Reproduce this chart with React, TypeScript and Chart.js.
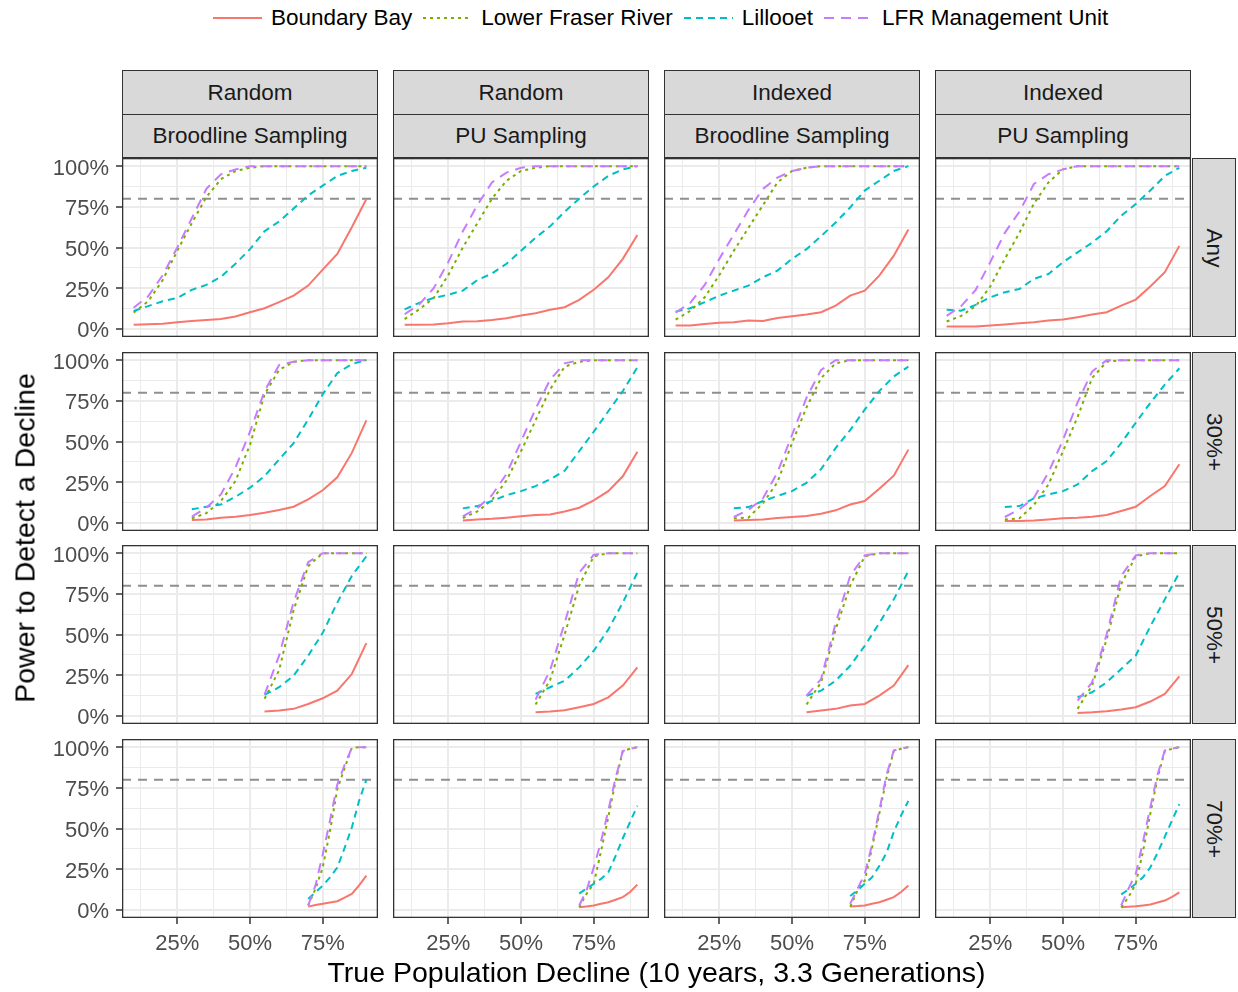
import React, { useEffect, useRef } from 'react';
import { Chart, registerables } from 'chart.js';

Chart.register(...registerables);

const FONT = '"Liberation Sans", Arial, Helvetica, sans-serif';

// ---------- labels ----------
const seriesNames = ['Boundary Bay', 'Lower Fraser River', 'Lillooet', 'LFR Management Unit'];
const colTopLabels = ['Random', 'Random', 'Indexed', 'Indexed'];
const colBottomLabels = ['Broodline Sampling', 'PU Sampling', 'Broodline Sampling', 'PU Sampling'];
const rowLabels = ['Any', '30%+', '50%+', '70%+'];
const xTitle = 'True Population Decline (10 years, 3.3 Generations)';
const yTitle = 'Power to Detect a Decline';

// ---------- ticks ----------
const xMajorTicks = [25, 50, 75];
const xMinorTicks = [12.5, 37.5, 62.5, 87.5];
const yMajorTicks = [0, 25, 50, 75, 100];
const yMinorTicks = [12.5, 37.5, 62.5, 87.5];
const targetPower = 80;

// ---------- x values per row ----------
const xAny = [10, 15, 20, 25, 30, 35, 40, 45, 50, 55, 60, 65, 70, 75, 80, 85, 90];
const x30 = [30, 35, 40, 45, 50, 55, 60, 65, 70, 75, 80, 85, 90];
const x50 = [55, 60, 65, 70, 75, 80, 85, 90];
const x70 = [70, 72.5, 75, 77.5, 80, 82.5, 85, 87.5, 90];

// ---------- row "Any" (one array per column) ----------
const anyBoundaryBay = [
  [2.5, 2.9, 3.1, 4.1, 4.9, 5.5, 6.1, 7.6, 10.2, 12.7, 16.4, 20.4, 26.6, 36.4, 46, 62.4, 79.8],
  [2.5, 2.5, 2.7, 3.5, 4.5, 4.7, 5.5, 6.5, 8.2, 9.6, 11.7, 13.3, 17.8, 24, 31.7, 43, 57.7],
  [2, 2, 3, 3.7, 4.1, 5.1, 4.9, 6.7, 7.8, 8.8, 10.2, 14.3, 20.4, 23.5, 32.7, 45, 61],
  [1.4, 1.4, 1.4, 2, 2.7, 3.5, 4.1, 5.1, 5.7, 7.2, 8.8, 10.2, 14.3, 18, 26, 34.8, 51],
];
const anyLowerFraser = [
  [10, 17, 30, 48, 65, 81, 92, 97, 99, 100, 100, 100, 100, 100, 100, 100, 100],
  [6, 12, 19, 33, 50, 65, 80, 91, 97, 99, 100, 100, 100, 100, 100, 100, 100],
  [5.7, 11, 19.4, 33, 48, 62, 76, 90, 97, 99, 100, 100, 100, 100, 100, 100, 100],
  [4.5, 8, 14, 26, 43, 59, 77, 90, 98, 100, 100, 100, 100, 100, 100, 100, 100],
];
const anyLillooet = [
  [11, 14, 17, 19, 24, 27, 32, 40, 49, 60, 66, 74, 82, 88, 94, 97, 99],
  [12, 16, 19, 21, 23.5, 30, 34, 40, 48, 56, 63, 72, 80, 87.5, 94, 98, 100],
  [10.6, 12.7, 16.4, 20.4, 23.5, 26.6, 31.7, 35.8, 43, 49, 57, 65.4, 74.6, 85, 91, 97, 100],
  [11.7, 11.2, 14.7, 19.4, 22.5, 24.5, 30.7, 33.7, 41, 47, 53, 60, 69.5, 76.7, 85, 94, 99],
];
const anyLFRUnit = [
  [13, 20, 33, 50, 68, 86, 95, 98, 100, 100, 100, 100, 100, 100, 100, 100, 100],
  [9, 15, 25, 41, 60, 76, 90, 96, 99, 100, 100, 100, 100, 100, 100, 100, 100],
  [10, 16, 27, 43, 58, 73, 86, 93, 97, 99, 100, 100, 100, 100, 100, 100, 100],
  [8, 14, 24, 41, 59, 72, 89, 95, 98, 100, 100, 100, 100, 100, 100, 100, 100],
];

// ---------- row "30%+" ----------
const p30BoundaryBay = [
  [1.7, 2.1, 3.2, 3.8, 4.8, 6.2, 7.9, 9.9, 14.4, 20, 28, 43, 63],
  [1.5, 2, 2.5, 3.2, 4, 4.8, 5.2, 7, 9.3, 13.8, 19.5, 28.6, 43.7],
  [1.5, 1.8, 2.1, 3, 3.6, 4.2, 5.6, 7.7, 11.3, 13.4, 21, 29, 45],
  [1.1, 1.1, 1.5, 2.1, 2.8, 3.2, 3.8, 4.8, 7.3, 9.9, 16.5, 22.6, 36],
];
const p30LowerFraser = [
  [2.8, 6, 13.4, 25.7, 48, 79, 94, 99, 100, 100, 100, 100, 100],
  [3, 7, 14, 26, 44, 63, 82, 96, 99, 100, 100, 100, 100],
  [2.8, 3.2, 12, 25, 49, 71, 89, 98, 100, 100, 100, 100, 100],
  [2.1, 2.8, 11, 23.6, 44, 65, 89, 99, 100, 100, 100, 100, 100],
];
const p30Lillooet = [
  [8.3, 9.9, 11.3, 16, 21.6, 28.7, 39, 49, 63.5, 79, 92, 97.6, 100],
  [8.9, 10.3, 13.4, 17, 19.5, 22.6, 26.7, 32, 44, 56, 68.6, 81, 95.6],
  [9, 9.7, 13.4, 16.5, 19.5, 24.6, 33, 46, 57, 69.6, 81, 90, 96],
  [9.7, 10.3, 15, 17.5, 19.5, 23.6, 31.8, 38, 49, 61.5, 73.7, 85, 95],
];
const p30LFRUnit = [
  [3.8, 9.3, 17.5, 34, 56, 81, 97, 99, 100, 100, 100, 100, 100],
  [4, 9, 17, 30, 50, 70, 88, 98, 100, 100, 100, 100, 100],
  [3.6, 8, 15, 31, 54, 77, 94, 100, 100, 100, 100, 100, 100],
  [3.6, 8.3, 15.4, 31, 51, 74, 93, 100, 100, 100, 100, 100, 100],
];

// ---------- row "50%+" ----------
const p50BoundaryBay = [
  [2.7, 3.3, 4.3, 7.3, 10.8, 15.5, 25.7, 44.7],
  [2.2, 2.7, 3.5, 5.3, 7.3, 11.4, 18.6, 29.8],
  [2.2, 3.3, 4.3, 6.3, 7.3, 12.4, 18.6, 31.2],
  [1.8, 2.2, 2.9, 3.9, 5.3, 8.8, 13.5, 24.3],
];
const p50LowerFraser = [
  [10.5, 28, 65, 92, 100, 100, 100, 100],
  [7, 22, 50, 80, 98, 100, 100, 100],
  [7, 20.6, 53, 80, 98, 100, 100, 100],
  [4.3, 18.6, 47, 81, 98, 100, 100, 100],
];
const p50Lillooet = [
  [12.9, 17.6, 24.7, 37, 51, 69.6, 86, 98],
  [13.5, 17.6, 21.6, 29.8, 40, 53, 69.6, 88],
  [12.4, 15.5, 21.6, 30.8, 43, 57, 71.6, 89],
  [11.4, 14.5, 20.6, 28.8, 37, 55, 71.6, 88],
];
const p50LFRUnit = [
  [13, 37, 70, 94.5, 100, 100, 100, 100],
  [10, 28, 57, 88, 99, 100, 100, 100],
  [12.4, 22.6, 57, 86, 98.6, 100, 100, 100],
  [9.4, 20.6, 50, 86, 98.6, 100, 100, 100],
];

// ---------- row "70%+" ----------
const p70BoundaryBay = [
  [2, 3, 3.8, 4.5, 5.3, 7.5, 9.8, 15, 21],
  [1.6, 2.1, 2.7, 3.7, 4.7, 6.2, 7.8, 11, 15.5],
  [2, 2.3, 2.7, 3.7, 4.7, 6.2, 7.8, 11, 14.9],
  [1.6, 1.9, 2.2, 2.7, 3.3, 4.5, 5.7, 8, 10.8],
];
const p70LowerFraser = [
  [2.7, 12.9, 26, 48.6, 74, 87, 99.6, 100, 100],
  [1.6, 9.8, 16, 36, 57, 79, 97.6, 99, 100],
  [2, 11.8, 18, 38, 59, 81, 97.6, 99, 100],
  [1.6, 7.8, 16, 36, 59, 81, 97.6, 99, 100],
];
const p70Lillooet = [
  [6.7, 10.8, 14.9, 20, 26, 38, 50.6, 67, 80],
  [10, 13, 16, 19, 23, 33, 44, 54, 64],
  [8.5, 12, 16, 20, 27, 35, 48, 58, 67],
  [9.5, 12.5, 16, 20, 26, 35, 45, 55, 65],
];
const p70LFRUnit = [
  [2.7, 15, 34, 55, 77, 89, 99.6, 100, 100],
  [2.7, 11.8, 26, 42, 61, 81, 97.6, 99, 100],
  [3.7, 12.9, 22, 40, 61, 83, 98, 99, 100],
  [2.7, 13, 22, 42, 63, 83, 98, 99, 100],
];

const rowData = [
  { x: xAny, series: [anyBoundaryBay, anyLowerFraser, anyLillooet, anyLFRUnit] },
  { x: x30, series: [p30BoundaryBay, p30LowerFraser, p30Lillooet, p30LFRUnit] },
  { x: x50, series: [p50BoundaryBay, p50LowerFraser, p50Lillooet, p50LFRUnit] },
  { x: x70, series: [p70BoundaryBay, p70LowerFraser, p70Lillooet, p70LFRUnit] },
];

// ---------- styles ----------
const seriesColors = ['#F8766D', '#7CAE00', '#00BFC4', '#C77CFF'];
const seriesDash: number[][] = [[], [3, 4], [7, 5], [10, 7]];

const X_MIN = 6, X_MAX = 94, Y_MIN = -5, Y_MAX = 105;
const PANEL_LEFT = [122, 393, 664, 935];
const PANEL_TOP = [158, 352, 545, 739];
const PW = 256;
const PH = 179;
const Y_AXIS_W = 82;
const X_AXIS_H = 40;
const STRIP_H = 44;

const panelBorder = {
  id: 'panelBorder',
  afterDraw(chart: any) {
    const { ctx, chartArea: a } = chart;
    ctx.save();
    ctx.strokeStyle = '#333333';
    ctx.lineWidth = 1.3;
    ctx.strokeRect(a.left + 0.65, a.top + 0.65, a.width - 1.3, a.height - 1.3);
    ctx.restore();
  },
};

function Panel({ r, c }: { r: number; c: number }) {
  const ref = useRef<HTMLCanvasElement>(null);
  const isLeft = c === 0;
  const isBottom = r === 3;
  const yW = isLeft ? Y_AXIS_W : 0;
  const xH = isBottom ? X_AXIS_H : 0;
  const w = PW + yW;
  const h = PH + xH;

  useEffect(() => {
    if (!ref.current) return;
    const row = rowData[r];
    const datasets: any[] = row.series.map((s, k) => ({
      label: seriesNames[k],
      data: row.x.map((x, i) => ({ x, y: s[c][i] })),
      borderColor: seriesColors[k],
      borderDash: seriesDash[k],
      borderWidth: 2,
      borderCapStyle: 'butt',
      pointRadius: 0,
      tension: 0,
      fill: false,
      order: 4 - k,
    }));
    datasets.push({
      label: 'target',
      data: [
        { x: X_MIN, y: targetPower },
        { x: X_MAX, y: targetPower },
      ],
      borderColor: '#8f8f8f',
      borderDash: [9, 7],
      borderWidth: 2,
      pointRadius: 0,
      fill: false,
      order: 10,
    });

    const xAll = [...xMajorTicks, ...xMinorTicks].sort((a, b) => a - b);
    const yAll = [...yMajorTicks, ...yMinorTicks].sort((a, b) => a - b);
    const tickFont = { family: FONT, size: 22 };

    const chart = new Chart(ref.current, {
      type: 'line',
      data: { datasets },
      plugins: [panelBorder],
      options: {
        animation: false,
        responsive: false,
        devicePixelRatio: 1,
        layout: { padding: 0, autoPadding: false } as any,
        plugins: { legend: { display: false }, tooltip: { enabled: false } },
        events: [],
        scales: {
          x: {
            type: 'linear',
            min: X_MIN,
            max: X_MAX,
            afterBuildTicks: (ax: any) => {
              ax.ticks = xAll.map((v) => ({ value: v }));
            },
            afterFit: (ax: any) => {
              ax.height = xH;
              ax.paddingLeft = 0;
              ax.paddingRight = 0;
            },
            border: { display: false },
            grid: {
              color: '#ebebeb',
              lineWidth: (ctx: any) => (xMajorTicks.includes(ctx.tick?.value) ? 2 : 1),
              drawTicks: isBottom,
              tickLength: 6,
              tickWidth: 1.5,
              tickColor: (ctx: any) =>
                xMajorTicks.includes(ctx.tick?.value) ? '#333333' : 'rgba(0,0,0,0)',
            },
            ticks: {
              display: isBottom,
              autoSkip: false,
              maxRotation: 0,
              minRotation: 0,
              padding: 7,
              color: '#4d4d4d',
              font: tickFont,
              callback: (v: any) => (xMajorTicks.includes(Number(v)) ? `${v}%` : ''),
            },
          },
          y: {
            type: 'linear',
            min: Y_MIN,
            max: Y_MAX,
            afterBuildTicks: (ax: any) => {
              ax.ticks = yAll.map((v) => ({ value: v }));
            },
            afterFit: (ax: any) => {
              ax.width = yW;
              ax.paddingTop = 0;
              ax.paddingBottom = 0;
            },
            border: { display: false },
            grid: {
              color: '#ebebeb',
              lineWidth: (ctx: any) => (yMajorTicks.includes(ctx.tick?.value) ? 2 : 1),
              drawTicks: isLeft,
              tickLength: 6,
              tickWidth: 1.5,
              tickColor: (ctx: any) =>
                yMajorTicks.includes(ctx.tick?.value) ? '#333333' : 'rgba(0,0,0,0)',
            },
            ticks: {
              display: isLeft,
              autoSkip: false,
              padding: 7,
              labelOffset: 2.5,
              color: '#4d4d4d',
              font: tickFont,
              callback: (v: any) => (yMajorTicks.includes(Number(v)) ? `${v}%` : ''),
            },
          },
        },
      } as any,
    });
    return () => chart.destroy();
  }, [r, c]);

  return (
    <canvas
      ref={ref}
      width={w}
      height={h}
      style={{
        position: 'absolute',
        left: PANEL_LEFT[c] - yW,
        top: PANEL_TOP[r],
        width: w,
        height: h,
      }}
    />
  );
}

const stripBase: React.CSSProperties = {
  position: 'absolute',
  boxSizing: 'border-box',
  background: '#d9d9d9',
  border: '1px solid #333333',
  display: 'flex',
  alignItems: 'center',
  justifyContent: 'center',
  color: '#1a1a1a',
  fontSize: 22.5,
  fontFamily: FONT,
  whiteSpace: 'nowrap',
};

function LegendKey({ k }: { k: number }) {
  return (
    <svg width={49} height={20} style={{ display: 'block', marginRight: 9 }}>
      <line
        x1={0}
        y1={10}
        x2={49}
        y2={10}
        stroke={seriesColors[k]}
        strokeWidth={2}
        strokeDasharray={seriesDash[k].length ? seriesDash[k].join(' ') : undefined}
      />
    </svg>
  );
}

export default function App() {
  const panels: JSX.Element[] = [];
  for (let r = 0; r < 4; r++) for (let c = 0; c < 4; c++) panels.push(<Panel key={`${r}-${c}`} r={r} c={c} />);

  return (
    <div
      style={{
        position: 'absolute',
        left: 0,
        top: 0,
        width: 1238,
        height: 992,
        background: '#ffffff',
        overflow: 'hidden',
        fontFamily: FONT,
      }}
    >
      {/* legend */}
      <div
        style={{
          position: 'absolute',
          left: 213,
          top: 4,
          height: 28,
          display: 'flex',
          alignItems: 'center',
          fontSize: 22.5,
          color: '#000',
          whiteSpace: 'nowrap',
        }}
      >
        {seriesNames.map((n, k) => (
          <div key={n} style={{ display: 'flex', alignItems: 'center', marginRight: 11 }}>
            <LegendKey k={k} />
            <span>{n}</span>
          </div>
        ))}
      </div>

      {/* column strips */}
      {PANEL_LEFT.map((L, c) => (
        <React.Fragment key={`cs${c}`}>
          <div style={{ ...stripBase, left: L, top: PANEL_TOP[0] - 2 * STRIP_H, width: PW, height: STRIP_H + 1 }}>
            {colTopLabels[c]}
          </div>
          <div style={{ ...stripBase, left: L, top: PANEL_TOP[0] - STRIP_H, width: PW, height: STRIP_H }}>
            {colBottomLabels[c]}
          </div>
        </React.Fragment>
      ))}

      {/* row strips */}
      {PANEL_TOP.map((T, r) => (
        <div
          key={`rs${r}`}
          style={{ ...stripBase, left: PANEL_LEFT[3] + PW + 1, top: T, width: 44, height: PH }}
        >
          <span style={{ display: 'inline-block', transform: 'rotate(90deg)' }}>{rowLabels[r]}</span>
        </div>
      ))}

      {panels}

      {/* axis titles */}
      <div
        style={{
          position: 'absolute',
          left: PANEL_LEFT[0],
          width: PANEL_LEFT[3] + PW - PANEL_LEFT[0],
          top: 956,
          textAlign: 'center',
          fontSize: 28.5,
          color: '#000',
          whiteSpace: 'nowrap',
        }}
      >
        {xTitle}
      </div>
      <div
        style={{
          position: 'absolute',
          left: 25,
          top: (PANEL_TOP[0] + PANEL_TOP[3] + PH) / 2,
          transform: 'translate(-50%, -50%) rotate(-90deg)',
          fontSize: 28.5,
          color: '#000',
          whiteSpace: 'nowrap',
        }}
      >
        {yTitle}
      </div>
    </div>
  );
}
